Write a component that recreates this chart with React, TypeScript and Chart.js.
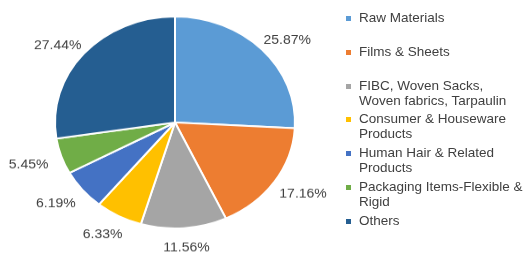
import React, { useEffect, useRef } from "react";
import { Chart, registerables } from "chart.js";

Chart.register(...registerables);

const categories = [
  "Raw Materials",
  "Films & Sheets",
  "FIBC, Woven Sacks, Woven fabrics, Tarpaulin",
  "Consumer & Houseware Products",
  "Human Hair & Related Products",
  "Packaging Items-Flexible & Rigid",
  "Others",
];
const legendLines = [
  ["Raw Materials"],
  ["Films & Sheets"],
  ["FIBC, Woven Sacks,", "Woven fabrics, Tarpaulin"],
  ["Consumer & Houseware", "Products"],
  ["Human Hair & Related", "Products"],
  ["Packaging Items-Flexible &", "Rigid"],
  ["Others"],
];
const shares = [25.87, 17.16, 11.56, 6.33, 6.19, 5.45, 27.44];
const colors = ["#5B9BD5", "#ED7D31", "#A5A5A5", "#FFC000", "#4472C4", "#70AD47", "#255E91"];

const SQUASH = 0.883;
const FONT = "Liberation Sans, Arial, sans-serif";

const labelPlugin = {
  id: "outsideLabels",
  afterDatasetsDraw(chart: any) {
    const ctx = chart.ctx;
    const meta = chart.getDatasetMeta(0);
    ctx.save();
    ctx.font = `14px ${FONT}`;
    ctx.fillStyle = "#404040";
    ctx.textAlign = "center";
    ctx.textBaseline = "middle";
    meta.data.forEach((arc: any, i: number) => {
      const { x, y, startAngle, endAngle, outerRadius } = arc.getProps(
        ["x", "y", "startAngle", "endAngle", "outerRadius"],
        true
      );
      const mid = (startAngle + endAngle) / 2;
      const text = shares[i].toFixed(2) + "%";
      const w = 45;
      const h = 15;
      const c = Math.cos(mid);
      const s = Math.sin(mid);
      const r = outerRadius + 12;
      ctx.fillText(text, x + c * (r + w / 2), y + 3.5 + s * (r + h / 2));
    });
    ctx.restore();
  },
};

function PieCanvas() {
  const ref = useRef<HTMLCanvasElement>(null);
  useEffect(() => {
    if (!ref.current) return;
    const chart = new Chart(ref.current, {
      type: "pie",
      data: {
        labels: categories,
        datasets: [
          {
            data: shares,
            backgroundColor: colors,
            borderColor: "#ffffff",
            borderWidth: 2,
          },
        ],
      },
      options: {
        responsive: false,
        animation: false,
        layout: { padding: { left: 54, right: 54, top: 29, bottom: 49 } },
        plugins: {
          legend: { display: false },
          tooltip: { enabled: false },
        },
      },
      plugins: [labelPlugin],
    });
    return () => chart.destroy();
  }, []);
  return <canvas ref={ref} width={350} height={320} />;
}

export default function App() {
  return (
    <div
      style={{
        position: "absolute",
        left: 0,
        top: 0,
        width: 532,
        height: 253,
        overflow: "hidden",
        background: "#ffffff",
        fontFamily: FONT,
      }}
    >
      <div
        style={{
          position: "absolute",
          left: 0,
          top: -10,
          width: 350,
          height: 320,
          transform: `scaleY(${SQUASH})`,
          transformOrigin: "0 0",
        }}
      >
        <PieCanvas />
      </div>
      <div style={{ position: "absolute", left: 346, top: 10 }}>
        {legendLines.map((lines, i) => (
          <div key={i} style={{ position: "relative", height: 33.8 }}>
            <div
              style={{
                position: "absolute",
                left: 0,
                top: 6,
                width: 5,
                height: 5,
                background: colors[i],
              }}
            />
            <div
              style={{
                position: "absolute",
                left: 13,
                top: 0,
                fontSize: 13.5,
                lineHeight: "15px",
                color: "#404040",
                whiteSpace: "nowrap",
              }}
            >
              {lines.map((l, j) => (
                <div key={j}>{l}</div>
              ))}
            </div>
          </div>
        ))}
      </div>
    </div>
  );
}
